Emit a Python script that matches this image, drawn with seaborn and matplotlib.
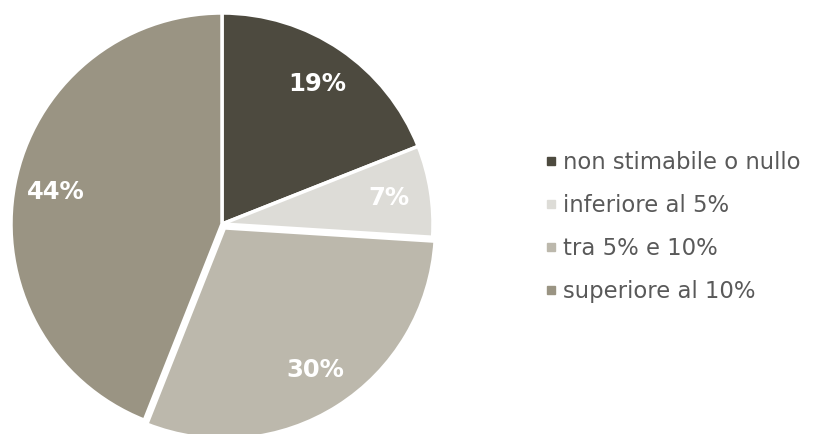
import matplotlib
matplotlib.use("Agg")
import matplotlib.pyplot as plt
from matplotlib.lines import Line2D
import seaborn as sns

categories = ["non stimabile o nullo", "inferiore al 5%", "tra 5% e 10%", "superiore al 10%"]
shares = [19, 7, 30, 44]
colors = ["#4d4a3f", "#dddcd7", "#bcb8ac", "#9a9483"]
explode = [0, 0, 0.022, 0]

sns.set_theme(style="white")
plt.rcParams["font.family"] = ["DejaVu Sans"]
palette = sns.color_palette(colors)

fig = plt.figure(figsize=(8.14, 4.34), dpi=100)
ax = fig.add_axes([0, 0, 444 / 814, 1])

wedges, texts, autotexts = ax.pie(
    shares,
    colors=palette,
    startangle=90,
    counterclock=False,
    explode=explode,
    radius=1.0,
    autopct=lambda p: f"{p:.0f}%",
    pctdistance=0.8,
    wedgeprops=dict(edgecolor="white", linewidth=2.5),
    textprops=dict(color="white", fontsize=17.5, fontweight="bold"),
)
ax.set_xlim(-222 / 211, 222 / 211)
ax.set_ylim(-210 / 211, 224 / 211)
ax.set_aspect("auto")
ax.axis("off")

handles = [
    Line2D([], [], linestyle="none", marker="s", markersize=6,
           markerfacecolor=c, markeredgecolor=c)
    for c in palette
]
fig.legend(
    handles, categories,
    loc="center left", bbox_to_anchor=(545 / 814, 1 - 227 / 434),
    frameon=False, fontsize=16.4, labelcolor="#595959",
    handlelength=0.5, handletextpad=0.3, labelspacing=0.88,
    borderpad=0, borderaxespad=0,
)

fig.savefig("out.png", dpi=100, facecolor="white")
